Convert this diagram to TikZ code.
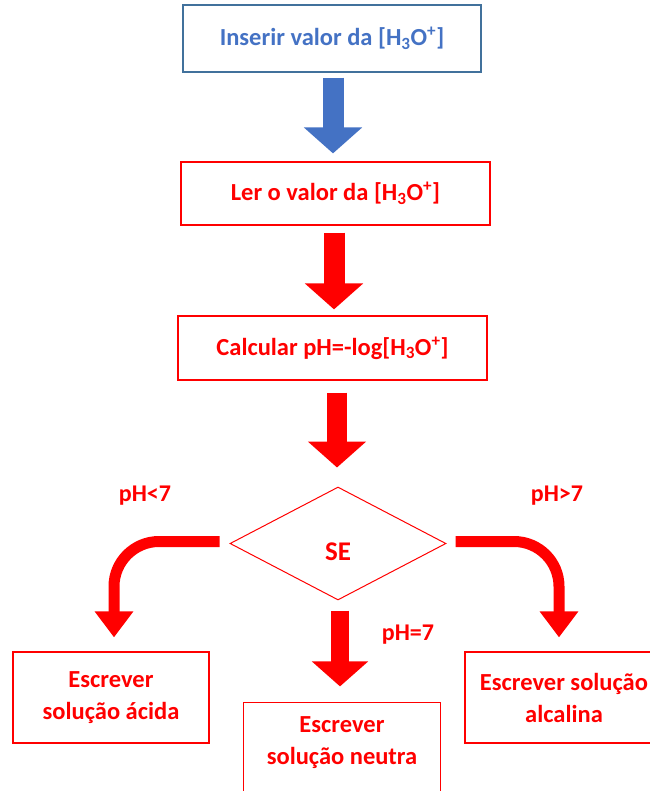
\documentclass[tikz,border=0pt]{standalone}
\usepackage{fontspec}
\setmainfont{Carlito}
\usetikzlibrary{shapes.geometric,arrows.meta}
\definecolor{boxblue}{HTML}{41719C}
\definecolor{txtblue}{HTML}{4472C4}
\definecolor{flowred}{HTML}{FF0000}

\begin{document}
\begin{tikzpicture}[x=1pt, y=-1pt,
    box/.style={draw=flowred, line width=1.2pt, rectangle, align=center, text=flowred,
        inner sep=0pt, font=\bfseries\fontsize{24.5}{32}\selectfont},
    lbl/.style={text=flowred, font=\bfseries\fontsize{24}{28}\selectfont},
    bigarrow/.style={draw=flowred, line width=21pt, -{Triangle[length=26pt, width=57pt]}},
    bendarrow/.style={draw=flowred, line width=11pt, rounded corners=45pt, -{Triangle[length=26pt, width=37pt]}}]

    \useasboundingbox (0,0) rectangle (649,791);

    % boxes
    \node[box, draw=boxblue, text=txtblue, minimum width=298pt, minimum height=67pt] (inserir) at (332,38.5) {Inserir valor da [H\textsubscript{3}O\textsuperscript{+}]};
    \node[box, minimum width=309pt, minimum height=63pt] (ler) at (335.5,193.5) {Ler o valor da [H\textsubscript{3}O\textsuperscript{+}]};
    \node[box, minimum width=309pt, minimum height=64pt] (calc) at (332.5,348) {Calcular pH=-log[H\textsubscript{3}O\textsuperscript{+}]};
    \node[diamond, draw=flowred, line width=1pt, inner sep=0pt, minimum width=216pt, minimum height=113pt,
        text=flowred, text height=33pt, text depth=0pt, font=\bfseries\fontsize{27}{30}\selectfont] (se) at (338,543.5) {SE};
    \node[box, minimum width=196pt, minimum height=91pt] (acida) at (111,697.5) {Escrever\\solução ácida};
    \node[box, minimum width=198pt, minimum height=91pt] (alcal) at (564,697.5) {Escrever solução\\alcalina};
    \node[box, draw=none, minimum width=196pt, minimum height=80pt] (neutra) at (342,743) {Escrever\\solução neutra};
    \draw[flowred, line width=1.2pt] ([yshift=-30pt]neutra.south west) |- (neutra.north east) -- ([yshift=-30pt]neutra.south east);

    % labels
    \node[lbl] (menor) at (145,496) {pH<7};
    \node[lbl] (maior) at (557,496) {pH>7};
    \node[lbl] (igual) at (408,635) {pH=7};

    % arrows
    \draw[bigarrow, draw=txtblue] ([xshift=1pt,yshift=-5pt]inserir.south) -- ([xshift=-2.5pt,yshift=8pt]ler.north);
    \draw[bigarrow] ([xshift=-1.5pt,yshift=-7pt]ler.south) -- ([xshift=1.5pt,yshift=6pt]calc.north);
    \draw[bigarrow, line width=20pt] ([xshift=4.5pt,yshift=-12pt]calc.south) -- ([xshift=-1pt,yshift=19pt]se.north);
    \draw[bigarrow, line width=18pt, -{Triangle[length=25pt, width=55pt]}] ([xshift=2pt,yshift=-10pt]se.south) -- ([xshift=-2pt,yshift=16pt]neutra.north);
    \draw[bendarrow] ([xshift=-10pt,yshift=2pt]se.west) -| ([xshift=3pt,yshift=14pt]acida.north);
    \draw[bendarrow] ([xshift=9pt,yshift=2pt]se.east) -| ([xshift=-5pt,yshift=14pt]alcal.north);

\end{tikzpicture}
\end{document}
